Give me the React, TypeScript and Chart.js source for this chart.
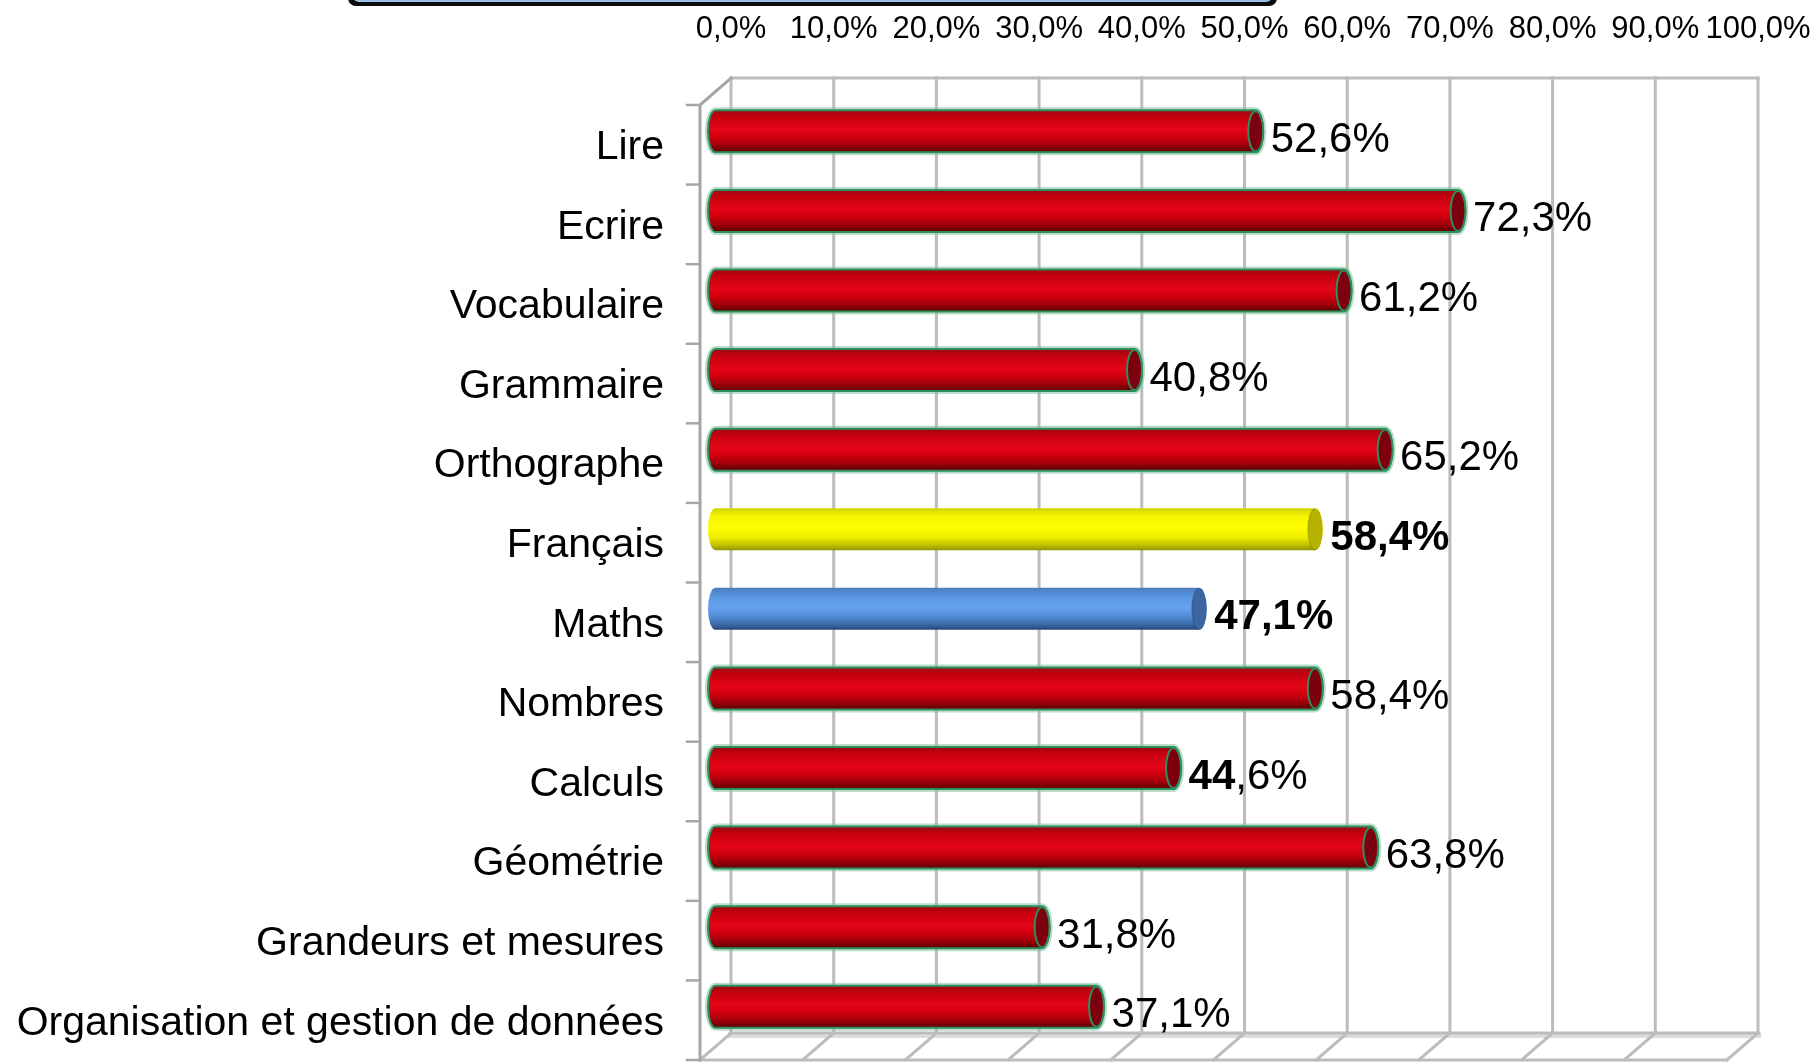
import React, { useEffect, useRef } from 'react';
import { Chart, registerables } from 'chart.js';

Chart.register(...registerables);

const categories = [
  'Lire',
  'Ecrire',
  'Vocabulaire',
  'Grammaire',
  'Orthographe',
  'Français',
  'Maths',
  'Nombres',
  'Calculs',
  'Géométrie',
  'Grandeurs et mesures',
  'Organisation et gestion de données',
];

const scores = [52.6, 72.3, 61.2, 40.8, 65.2, 58.4, 47.1, 58.4, 44.6, 63.8, 31.8, 37.1];

const barKinds = ['red', 'red', 'red', 'red', 'red', 'yellow', 'blue', 'red', 'red', 'red', 'red', 'red'];

// number of leading characters of each value label drawn in bold
const boldPrefix = [0, 0, 0, 0, 0, 99, 99, 0, 2, 0, 0, 0];

const axisMin = 0;
const axisMax = 100;
const axisStep = 10;

const FONT = "'Liberation Sans', Arial, Helvetica, sans-serif";
const DX = 31;
const DY = 27;

const fmt = (v: number) => v.toFixed(1).replace('.', ',') + '%';

const palettes: Record<string, { stops: [number, string][]; cap: string; outline: boolean }> = {
  red: {
    stops: [
      [0, '#980a12'],
      [0.15, '#c4000e'],
      [0.45, '#e30617'],
      [0.62, '#d4000f'],
      [0.82, '#a2000b'],
      [1, '#5a0004'],
    ],
    cap: '#7c000e',
    outline: true,
  },
  yellow: {
    stops: [
      [0, '#d2d200'],
      [0.2, '#f4f400'],
      [0.45, '#ffff00'],
      [0.7, '#eeee00'],
      [0.88, '#c0c000'],
      [1, '#959500'],
    ],
    cap: '#b6b200',
    outline: false,
  },
  blue: {
    stops: [
      [0, '#4a7cbd'],
      [0.2, '#5a95e0'],
      [0.45, '#66a3f0'],
      [0.7, '#518ad2'],
      [0.88, '#3a67a6'],
      [1, '#254676'],
    ],
    cap: '#3c669f',
    outline: false,
  },
};

function drawCylinder(ctx: CanvasRenderingContext2D, x0: number, x1: number, yc: number, h: number, kind: string) {
  const p = palettes[kind];
  const r = h / 2;
  const rx = 7.5;
  const top = yc - r;
  const grad = ctx.createLinearGradient(0, top, 0, top + h);
  p.stops.forEach(([o, c]) => grad.addColorStop(o, c));

  const bodyPath = () => {
    ctx.beginPath();
    ctx.moveTo(x1, top);
    ctx.lineTo(x0, top);
    ctx.ellipse(x0, yc, rx, r, 0, -Math.PI / 2, Math.PI / 2, true);
    ctx.lineTo(x1, top + h);
    ctx.ellipse(x1, yc, rx, r, 0, Math.PI / 2, -Math.PI / 2, true);
    ctx.closePath();
  };

  ctx.save();
  if (p.outline) {
    bodyPath();
    ctx.strokeStyle = 'rgba(130,195,160,0.55)';
    ctx.lineWidth = 6;
    ctx.stroke();
  }
  bodyPath();
  ctx.fillStyle = grad;
  ctx.fill();
  if (p.outline) {
    ctx.strokeStyle = '#2e8f5c';
    ctx.lineWidth = 2;
    ctx.stroke();
  }
  // end cap
  ctx.beginPath();
  ctx.ellipse(x1, yc, rx, r - (p.outline ? 1 : 0.5), 0, 0, Math.PI * 2);
  ctx.fillStyle = p.cap;
  ctx.fill();
  if (p.outline) {
    ctx.strokeStyle = '#2e8f5c';
    ctx.lineWidth = 2;
    ctx.stroke();
  } else {
    ctx.beginPath();
    ctx.ellipse(x1, yc, rx, r - 0.5, 0, -Math.PI / 2, Math.PI / 2, true);
    ctx.strokeStyle = 'rgba(0,0,0,0.12)';
    ctx.lineWidth = 1.5;
    ctx.stroke();
  }
  ctx.restore();
}

const framePlugin = {
  id: 'frame3d',
  beforeDraw(chart: any) {
    const ctx: CanvasRenderingContext2D = chart.ctx;
    ctx.save();
    // cut-off title box at the top
    ctx.beginPath();
    ctx.roundRect(348, -30, 929, 36, 8);
    ctx.fillStyle = '#0b0b0b';
    ctx.fill();
    ctx.beginPath();
    ctx.roundRect(353, -30, 919, 32, 6);
    ctx.fillStyle = '#9cc0ec';
    ctx.fill();
    ctx.restore();
  },
  beforeDatasetsDraw(chart: any) {
    const { ctx, chartArea, scales } = chart;
    const x = scales.x;
    const hx = DX / 2;
    const hy = DY / 2;
    const backTop = chartArea.top - hy;
    const backBottom = chartArea.bottom - hy;
    const frontTop = chartArea.top + hy;
    const frontBottom = chartArea.bottom + hy;
    const xb = (v: number) => x.getPixelForValue(v) + hx;
    const xf = (v: number) => x.getPixelForValue(v) - hx;

    ctx.save();
    ctx.lineCap = 'square';
    // floor back band
    ctx.strokeStyle = '#dcdcdc';
    ctx.lineWidth = 6;
    ctx.beginPath();
    ctx.moveTo(xb(axisMin), backBottom + 2);
    ctx.lineTo(xb(axisMax), backBottom + 2);
    ctx.stroke();

    ctx.strokeStyle = '#bcbcbc';
    ctx.lineWidth = 3;
    // back wall grid lines
    for (let v = axisMin; v <= axisMax; v += axisStep) {
      ctx.beginPath();
      ctx.moveTo(xb(v), backTop);
      ctx.lineTo(xb(v), backBottom);
      ctx.stroke();
      // floor diagonals
      ctx.beginPath();
      ctx.moveTo(xb(v), backBottom);
      ctx.lineTo(xf(v), frontBottom);
      ctx.stroke();
    }
    // back wall top & bottom edge
    ctx.beginPath();
    ctx.moveTo(xb(axisMin), backTop);
    ctx.lineTo(xb(axisMax), backTop);
    ctx.stroke();
    ctx.beginPath();
    ctx.moveTo(xb(axisMin), backBottom);
    ctx.lineTo(xb(axisMax), backBottom);
    ctx.stroke();
    // floor front edge
    ctx.beginPath();
    ctx.moveTo(xf(axisMin), frontBottom);
    ctx.lineTo(xf(axisMax), frontBottom);
    ctx.stroke();

    // left wall
    ctx.strokeStyle = '#a6a6a6';
    ctx.beginPath();
    ctx.moveTo(xf(axisMin), frontBottom);
    ctx.lineTo(xf(axisMin), frontTop);
    ctx.lineTo(xb(axisMin), backTop);
    ctx.stroke();
    // category ticks
    const n = categories.length;
    const band = (chartArea.bottom - chartArea.top) / n;
    ctx.lineWidth = 2.5;
    for (let k = 0; k <= n; k++) {
      const yy = frontTop + k * band;
      ctx.beginPath();
      ctx.moveTo(xf(axisMin) - 13, yy);
      ctx.lineTo(xf(axisMin), yy);
      ctx.stroke();
    }
    ctx.restore();
  },
  afterDatasetsDraw(chart: any) {
    const ctx: CanvasRenderingContext2D = chart.ctx;
    const meta = chart.getDatasetMeta(0);
    meta.data.forEach((el: any, i: number) => {
      const { x, y, base, height } = el.getProps(['x', 'y', 'base', 'height'], true);
      drawCylinder(ctx, base, x, y, height, barKinds[i]);
    });
    // value labels
    ctx.save();
    ctx.fillStyle = '#000';
    ctx.textBaseline = 'middle';
    ctx.textAlign = 'left';
    meta.data.forEach((el: any, i: number) => {
      const { x, y } = el.getProps(['x', 'y'], true);
      const txt = fmt(scores[i]);
      const nb = Math.min(boldPrefix[i], txt.length);
      let cx = x + 15;
      const cy = y + 9;
      if (nb > 0) {
        ctx.font = `bold 42px ${FONT}`;
        const part = txt.slice(0, nb);
        ctx.fillText(part, cx, cy);
        cx += ctx.measureText(part).width;
      }
      if (nb < txt.length) {
        ctx.font = `42px ${FONT}`;
        ctx.fillText(txt.slice(nb), cx, cy);
      }
    });
    ctx.restore();
  },
};

export default function App() {
  const ref = useRef<HTMLCanvasElement>(null);

  useEffect(() => {
    if (!ref.current) return;
    const chart = new Chart(ref.current, {
      type: 'bar',
      data: {
        labels: categories,
        datasets: [
          {
            data: scores,
            backgroundColor: 'rgba(0,0,0,0)',
            borderWidth: 0,
            barThickness: 42,
          },
        ],
      },
      options: {
        indexAxis: 'y',
        animation: false,
        responsive: false,
        devicePixelRatio: 1,
        layout: { padding: { left: 0, top: 0, right: 77.5, bottom: 17.5 } },
        plugins: { legend: { display: false }, tooltip: { enabled: false } },
        scales: {
          x: {
            type: 'linear',
            position: 'top',
            min: axisMin,
            max: axisMax,
            grid: { display: false, drawTicks: false },
            border: { display: false },
            ticks: {
              stepSize: axisStep,
              autoSkip: false,
              maxRotation: 0,
              padding: 43,
              labelOffset: 15.5,
              color: '#000',
              font: { family: FONT, size: 31 },
              callback: (v: any) => fmt(Number(v)),
            },
            afterFit: (s: any) => {
              s.height = 91.5;
              s.paddingLeft = 0;
              s.paddingRight = 0;
            },
          },
          y: {
            type: 'category',
            grid: { display: false, drawTicks: false },
            border: { display: false },
            ticks: {
              autoSkip: false,
              padding: 51.5,
              labelOffset: 16.5,
              color: '#000',
              font: { family: FONT, size: 41 },
            },
            afterFit: (s: any) => {
              s.width = 715.5;
              s.paddingTop = 0;
              s.paddingBottom = 0;
            },
          },
        },
      },
      plugins: [framePlugin],
    });
    return () => chart.destroy();
  }, []);

  return (
    <div style={{ position: 'fixed', left: 0, top: 0, width: 1820, height: 1064, background: '#fff' }}>
      <canvas ref={ref} width={1820} height={1064} style={{ display: 'block', width: 1820, height: 1064 }} />
    </div>
  );
}
